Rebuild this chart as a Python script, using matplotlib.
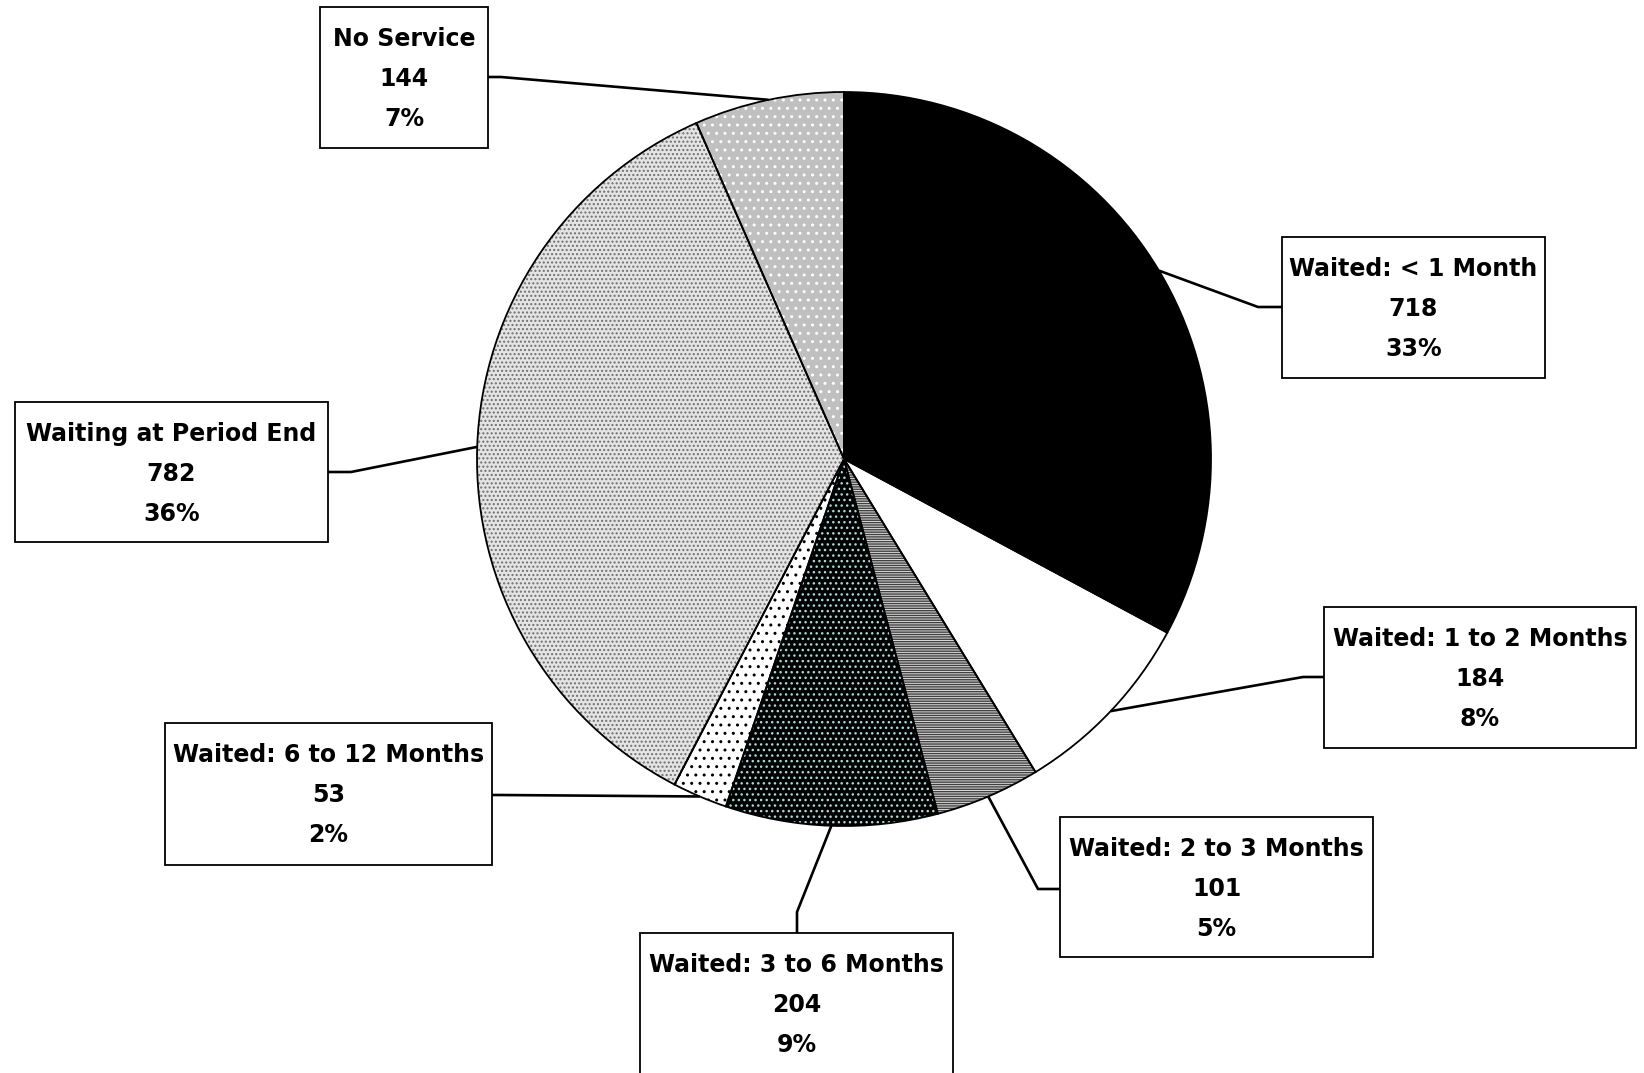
import matplotlib
matplotlib.use("Agg")
import matplotlib.pyplot as plt
from matplotlib.patches import Rectangle
import numpy as np

plt.rcParams['font.family'] = ['DejaVu Sans']
plt.rcParams['hatch.linewidth'] = 1.0

# data
labels = ["Waited: < 1 Month", "Waited: 1 to 2 Months", "Waited: 2 to 3 Months",
          "Waited: 3 to 6 Months", "Waited: 6 to 12 Months", "Waiting at Period End",
          "No Service"]
counts = [718, 184, 101, 204, 53, 782, 144]
percents = ["33%", "8%", "5%", "9%", "2%", "36%", "7%"]

# styles: face colour, hatch, hatch colour
faces = ['black', 'white', '#dcdcdc', 'black', 'white', '#e4e4e4', '#c0c0c0']
hatches = [None, None, '-------', '...', '..', '....', '..']
hcolors = ['black', 'white', '#404040', '#a8dada', 'black', '#707070', 'white']

W, H = 1644, 1073
fig = plt.figure(figsize=(W / 100, H / 100), dpi=100)
ax = fig.add_axes([0, 0, 1, 1])

def Y(y):
    return H - y

cx, cy, r = 844, 459, 367

# fill + hatch pass
wedges, _ = ax.pie(counts, startangle=90, counterclock=False,
                   center=(cx, Y(cy)), radius=r,
                   wedgeprops=dict(linewidth=0))
for w, fc, h, hc in zip(wedges, faces, hatches, hcolors):
    w.set_facecolor(fc)
    w.set_edgecolor(hc)
    if h:
        w.set_hatch(h)

# outline pass
ax.pie(counts, startangle=90, counterclock=False, center=(cx, Y(cy)), radius=r,
       wedgeprops=dict(fill=False, edgecolor='black', linewidth=1.3))

# label boxes (x0, y0, x1, y1 in pixels from top-left)
boxes = [(1282, 237, 1545, 378), (1324, 607, 1636, 748), (1060, 817, 1373, 957),
         (640, 933, 953, 1080), (165, 723, 492, 865), (15, 402, 328, 542),
         (320, 7, 488, 148)]
# leader elbow and end points (pixels from top-left)
elbows = [((1258, 307), (1282, 307)), ((1303, 677), (1324, 677)),
          ((1038, 889), (1060, 889)), ((797, 912), (797, 933)),
          ((500, 795), (492, 795)), ((351, 472), (328, 472)),
          ((501, 77), (488, 77))]

for w, lab, n, p, b, (e1, e2) in zip(wedges, labels, counts, percents, boxes, elbows):
    ang = np.deg2rad((w.theta1 + w.theta2) / 2)
    ax_ = cx + r * np.cos(ang)
    ay_ = cy - r * np.sin(ang)
    ax.plot([ax_, e1[0], e2[0]], [Y(ay_), Y(e1[1]), Y(e2[1])],
            color='black', linewidth=1.9, solid_capstyle='butt', zorder=3)
    x0, y0, x1, y1 = b
    ax.add_patch(Rectangle((x0, Y(y1)), x1 - x0, y1 - y0, facecolor='white',
                           edgecolor='black', linewidth=1.3, zorder=4))
    xm = (x0 + x1) / 2
    for k, line in enumerate([lab, str(n), p]):
        ax.text(xm, Y(y0 + 39 + 40 * k), line, ha='center', va='baseline',
                fontsize=17, fontweight='bold', zorder=5)

ax.set_xlim(0, W)
ax.set_ylim(0, H)
ax.set_aspect('auto')
ax.axis('off')

fig.savefig("out.png", dpi=100, facecolor='white')
